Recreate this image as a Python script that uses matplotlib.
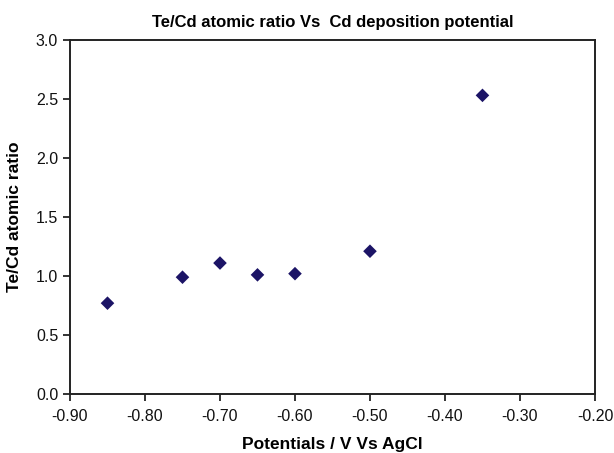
import matplotlib
matplotlib.use("Agg")
import matplotlib.pyplot as plt
from matplotlib.ticker import FormatStrFormatter, MultipleLocator

# Deposition potential (V vs AgCl) and measured Te/Cd atomic ratio
potential = [-0.85, -0.75, -0.70, -0.65, -0.60, -0.50, -0.35]
ratio = [0.77, 0.99, 1.11, 1.01, 1.02, 1.21, 2.53]

x_range = (-0.90, -0.20)
y_range = (0.0, 3.0)

title = "Te/Cd atomic ratio Vs  Cd deposition potential"
xlabel = "Potentials / V Vs AgCl"
ylabel = "Te/Cd atomic ratio"

plt.rcParams['font.family'] = ['Liberation Sans', 'DejaVu Sans']

fig = plt.figure(figsize=(6.14, 4.53), dpi=100)
ax = fig.add_axes([0.114, 0.130, 0.855, 0.782])

ax.scatter(potential, ratio, marker='D', s=48, color='#1c1466', edgecolors='none', zorder=3)

ax.set_xlim(*x_range)
ax.set_ylim(*y_range)
ax.xaxis.set_major_locator(MultipleLocator(0.10))
ax.yaxis.set_major_locator(MultipleLocator(0.5))
ax.xaxis.set_major_formatter(FormatStrFormatter('%.2f'))
ax.yaxis.set_major_formatter(FormatStrFormatter('%.1f'))

for s in ax.spines.values():
    s.set_linewidth(1.4)
    s.set_color('#222222')
ax.tick_params(direction='out', length=5, width=1.2, labelsize=11.5, colors='#111111')
ax.tick_params(axis='x', pad=6)

ax.set_title(title, fontsize=12, fontweight='bold', pad=9)
ax.set_xlabel(xlabel, fontsize=12.5, fontweight='bold', labelpad=9)
ax.set_ylabel(ylabel, fontsize=12.5, fontweight='bold', labelpad=10)

fig.savefig("out.png", dpi=100)
